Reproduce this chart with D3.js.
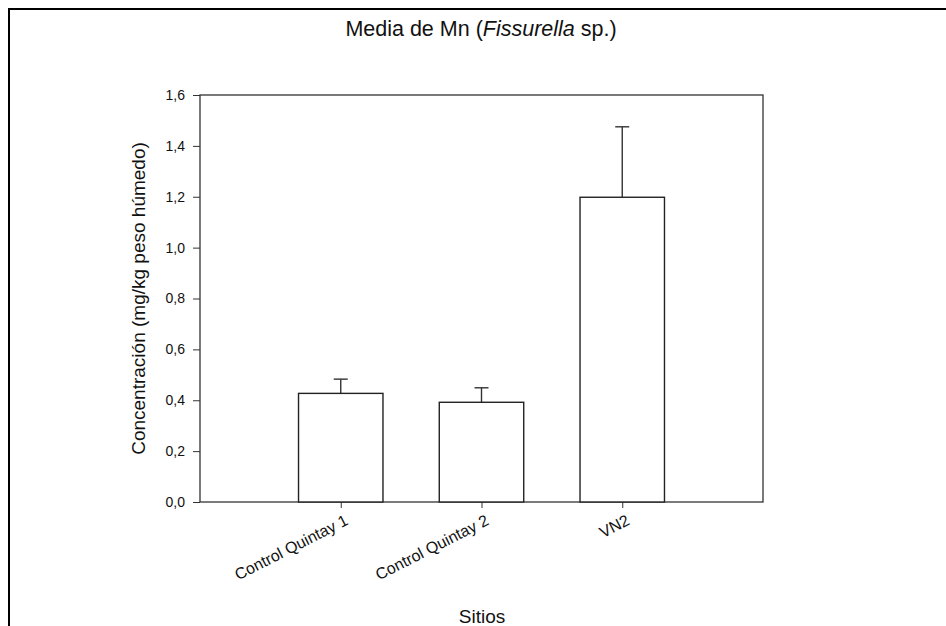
<!DOCTYPE html>
<html>
<head>
<meta charset="utf-8">
<script src="https://cdn.jsdelivr.net/npm/d3@7"></script>
<style>
  html, body { margin: 0; padding: 0; background: #fff; }
  svg { display: block; font-family: "Liberation Sans", Arial, sans-serif; }
</style>
</head>
<body>
<svg id="chart" width="946" height="626"></svg>
<script>
// Mean Mn concentration per site, with standard-deviation error bars
const sites = ["Control Quintay 1", "Control Quintay 2", "VN2"];
const means = [0.427, 0.392, 1.198];
const errors = [0.056, 0.057, 0.277];
const yTicks = [0, 0.2, 0.4, 0.6, 0.8, 1.0, 1.2, 1.4, 1.6];

const svg = d3.select("#chart");
const W = 946, H = 626;
const plot = { left: 200, right: 763, top: 95, bottom: 502 };
const fontFamily = "Liberation Sans, Arial, sans-serif";

// Outer frame (left and top edges)
svg.append("path")
  .attr("d", `M9,${H} L9,9 L${W},9`)
  .attr("fill", "none").attr("stroke", "#000").attr("stroke-width", 2);

const x = d3.scaleLinear().domain([0, sites.length + 1]).range([plot.left, plot.right]);
const y = d3.scaleLinear().domain([0, 1.6]).range([plot.bottom, plot.top]);
const step = x(1) - x(0);
const barW = step * 0.6;

// Plot box
svg.append("rect")
  .attr("x", plot.left).attr("y", plot.top)
  .attr("width", plot.right - plot.left).attr("height", plot.bottom - plot.top)
  .attr("fill", "none").attr("stroke", "#333").attr("stroke-width", 1.3);

// Y axis
const yAxis = d3.axisLeft(y).tickValues(yTicks).tickSize(7).tickPadding(8)
  .tickFormat(d => d3.format(".1f")(d).replace(".", ","));
const gy = svg.append("g").attr("transform", `translate(${plot.left},0)`).call(yAxis);
gy.select(".domain").remove();
gy.selectAll("line").attr("stroke", "#333");
gy.selectAll("text").attr("font-size", 14).attr("fill", "#111")
  .attr("font-family", fontFamily);

// X axis
const xAxis = d3.axisBottom(x).tickValues(sites.map((d, i) => i + 1)).tickSize(6)
  .tickFormat((d) => sites[d - 1]);
const gx = svg.append("g").attr("transform", `translate(0,${plot.bottom})`).call(xAxis);
gx.select(".domain").remove();
gx.selectAll("line").attr("stroke", "#333");
gx.selectAll("text")
  .attr("font-size", 16).attr("fill", "#111")
  .attr("font-family", fontFamily)
  .attr("text-anchor", "end")
  .attr("dy", null)
  .attr("y", 0)
  .attr("transform", "translate(8,22) rotate(-27)");

// Error bars (drawn first so bar outlines sit on top)
const eg = svg.append("g").attr("stroke", "#333").attr("stroke-width", 1.4);
sites.forEach((s, i) => {
  const cx = x(i + 1);
  eg.append("line").attr("x1", cx).attr("x2", cx)
    .attr("y1", y(means[i])).attr("y2", y(means[i] + errors[i]));
  eg.append("line").attr("x1", cx - 7).attr("x2", cx + 7)
    .attr("y1", y(means[i] + errors[i])).attr("y2", y(means[i] + errors[i]));
});

// Bars
svg.append("g").selectAll("rect").data(means).join("rect")
  .attr("x", (d, i) => x(i + 1) - barW / 2)
  .attr("y", d => y(d))
  .attr("width", barW)
  .attr("height", d => y(0) - y(d))
  .attr("fill", "#fff").attr("stroke", "#222").attr("stroke-width", 1.4);

// Title
const title = svg.append("text")
  .attr("x", 481).attr("y", 36).attr("text-anchor", "middle")
  .attr("font-size", 21.5).attr("fill", "#111");
title.append("tspan").text("Media de Mn (");
title.append("tspan").attr("font-style", "italic").text("Fissurella");
title.append("tspan").text(" sp.)");

// Axis titles
svg.append("text")
  .attr("transform", `translate(145,${(plot.top + plot.bottom) / 2}) rotate(-90)`)
  .attr("text-anchor", "middle").attr("font-size", 19).attr("fill", "#111")
  .text("Concentración (mg/kg peso húmedo)");
svg.append("text")
  .attr("x", 482).attr("y", 623).attr("text-anchor", "middle")
  .attr("font-size", 19).attr("fill", "#111")
  .text("Sitios");
</script>
</body>
</html>
